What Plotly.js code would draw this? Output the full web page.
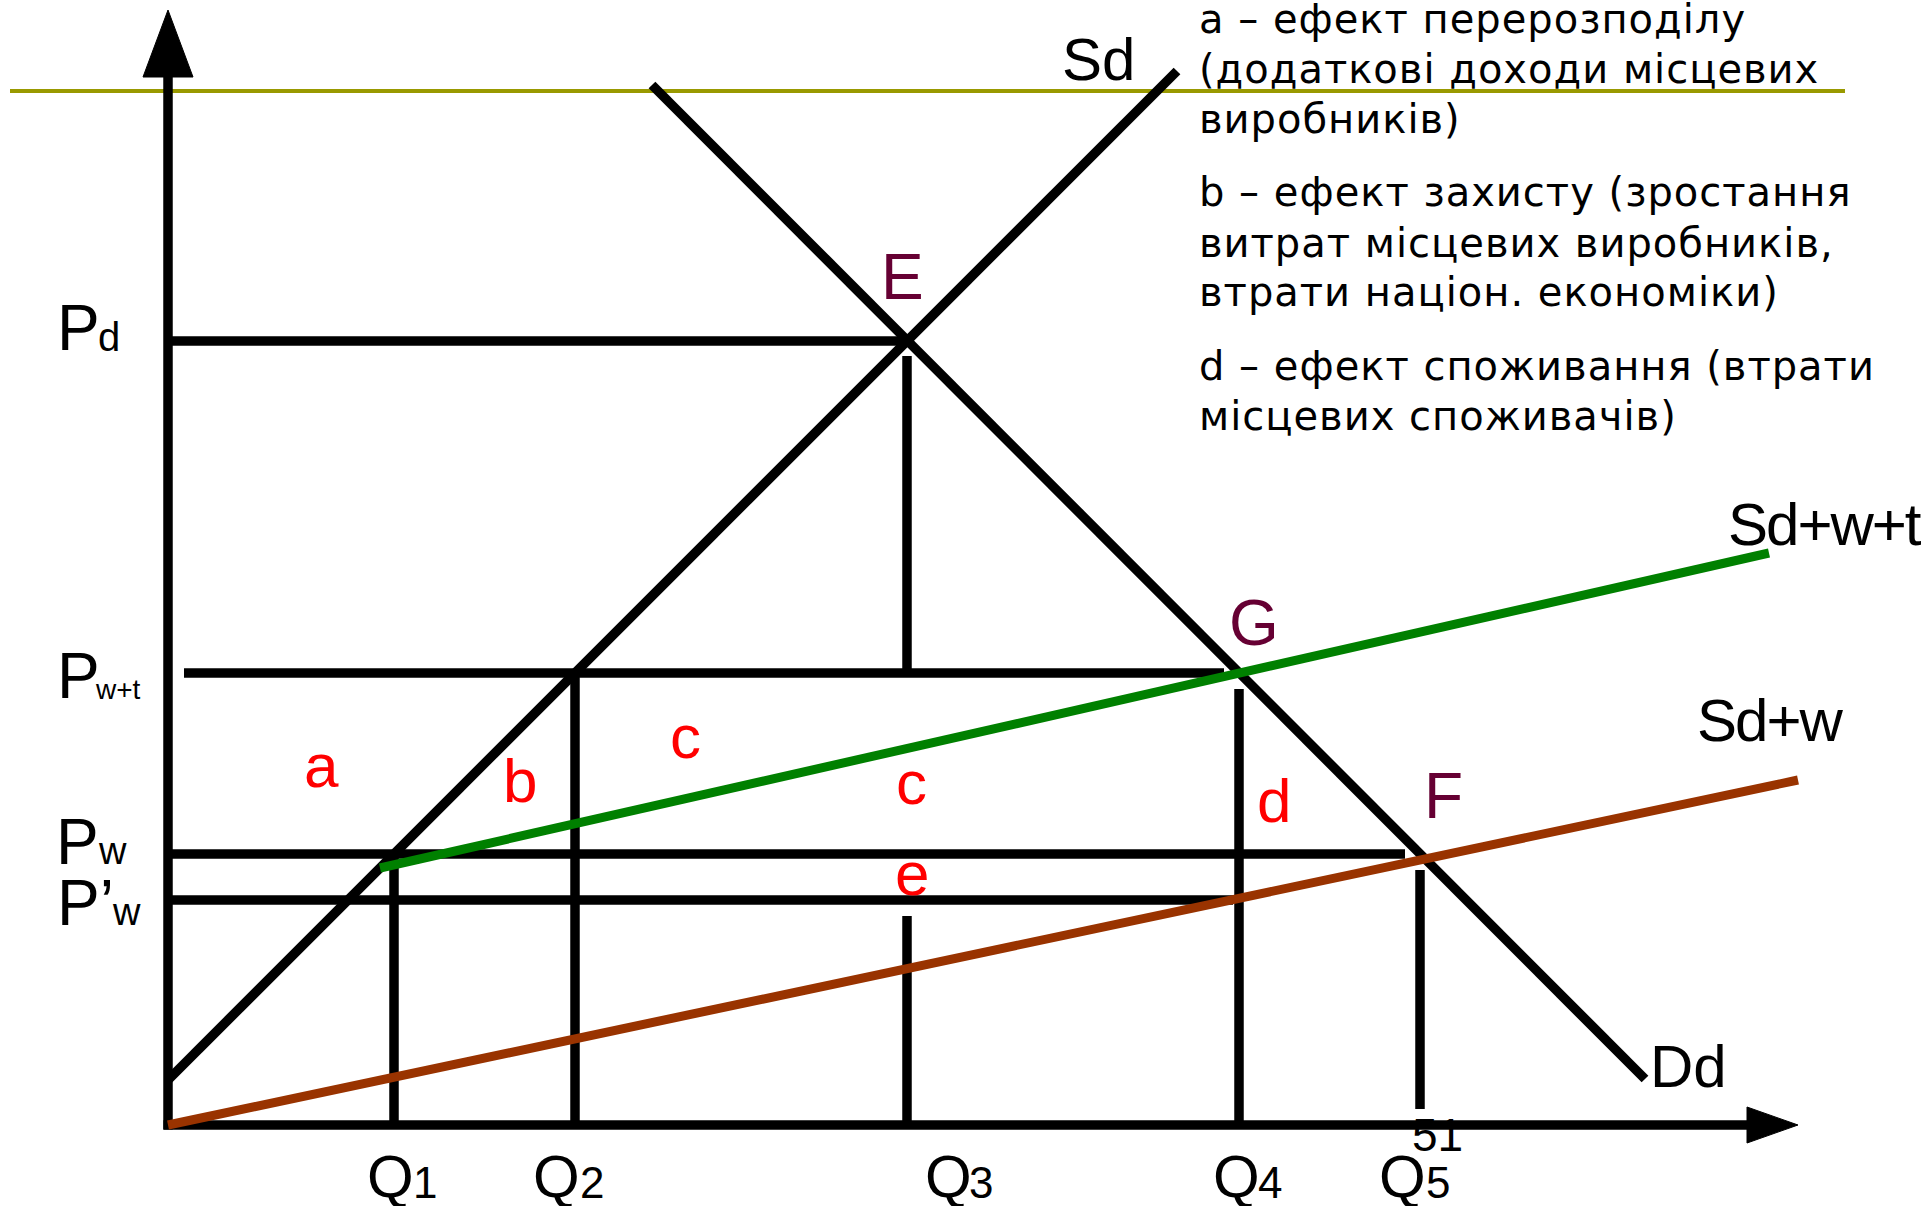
<!DOCTYPE html>
<html>
<head>
<meta charset="utf-8">
<script src="https://cdn.plot.ly/plotly-3.0.1.min.js"></script>
<style>
html, body { margin: 0; padding: 0; background: #ffffff; }
#chart { width: 1922px; height: 1206px; }
</style>
</head>
<body>
<div id="chart"></div>
<script>
// ---------- values (economic units) ----------
// price levels
var priceNames = ['Pd', 'Pw+t', 'Pw', "P'w"];
var priceLevels = [78.4, 45.2, 27.1, 22.5];
// quantity levels
var qtyNames = ['Q1', 'Q2', 'Q3', 'Q4', 'Q5'];
var qtyLevels = [22.6, 40.7, 73.9, 107.1, 125.2];

// curves (end points)
var sdQ = [0, 100.9],      sdP = [4.5, 105.4];    // domestic supply Sd
var ddQ = [48.4, 147.7],   ddP = [104.0, 4.6];    // domestic demand Dd
var sdwtQ = [21.2, 160.1], sdwtP = [25.7, 57.2];  // Sd+w+t
var sdwQ = [0, 163.0],     sdwP = [0, 34.5];      // Sd+w

// horizontal guide segments: quantity extents
var pdLineQ = [0, 73.9];
var pwtLineQ = [1.6, 105.6];
var pwLineQ = [0, 123.7];
var pwPrimeLineQ = [0, 106.5];

// vertical guide segments: price extents
var q1LineP = [0, 27.1];
var q2LineP = [0, 45.2];
var q3UpperP = [45.2, 76.9];
var q3LowerP = [0, 20.9];
var q4LineP = [0, 43.6];
var q5LineP = [1.6, 25.5];

// axes
var xAxisEnd = [157.9, 163.0];   // arrow base, arrow tip
var yAxisEnd = [104.8, 111.5];
var headerRuleP = 103.4, headerRuleQ = [-15.8, 167.7];

// legend text lines
var legendLines = [
  'a – ефект перерозподілу',
  '(додаткові доходи місцевих',
  'виробників)',
  'b – ефект захисту (зростання',
  'витрат місцевих виробників,',
  'втрати націон. економіки)',
  'd – ефект споживання (втрати',
  'місцевих споживачів)'
];
var legendP = [110.6, 105.6, 100.6, 93.3, 88.2, 83.3, 75.9, 70.9];

// area letters
var areaLetters = ['a', 'b', 'c', 'c', 'd', 'e'];
var areaQ = [15.3, 35.2, 51.7, 74.3, 110.6, 74.4];
var areaP = [36.0, 34.5, 38.9, 34.3, 32.5, 25.2];

// ---------- drawing ----------
var BLACK = '#000000', GREEN = '#008000', BROWN = '#993300',
    OLIVE = '#999900', RED = '#ff0000', MAROON = '#660033';
var LW = 9.5;
var traces = [];
function seg(x, y, color, w) {
  traces.push({x: x, y: y, mode: 'lines', type: 'scatter',
    line: {color: color, width: w}, hoverinfo: 'skip', showlegend: false});
}
function tri(x, y, color) {
  traces.push({x: x, y: y, mode: 'lines', type: 'scatter', fill: 'toself',
    fillcolor: color, line: {color: color, width: 1}, hoverinfo: 'skip', showlegend: false});
}

// header rule
seg(headerRuleQ, [headerRuleP, headerRuleP], OLIVE, 4);

// axes
seg([0, 0], [-0.45, yAxisEnd[0]], BLACK, LW);
seg([-0.45, xAxisEnd[0]], [0, 0], BLACK, LW);
tri([-2.5, 2.5, 0, -2.5], [yAxisEnd[0], yAxisEnd[0], yAxisEnd[1], yAxisEnd[0]], BLACK);
tri([xAxisEnd[0], xAxisEnd[0], xAxisEnd[1], xAxisEnd[0]], [-1.8, 1.8, 0, -1.8], BLACK);

// curves Sd, Dd
seg(sdQ, sdP, BLACK, LW);
seg(ddQ, ddP, BLACK, LW);

// horizontal guides
seg(pdLineQ, [priceLevels[0], priceLevels[0]], BLACK, LW);
seg(pwtLineQ, [priceLevels[1], priceLevels[1]], BLACK, LW);
seg(pwLineQ, [priceLevels[2], priceLevels[2]], BLACK, LW);
seg(pwPrimeLineQ, [priceLevels[3], priceLevels[3]], BLACK, LW);

// vertical guides
seg([qtyLevels[0], qtyLevels[0]], q1LineP, BLACK, LW);
seg([qtyLevels[1], qtyLevels[1]], q2LineP, BLACK, LW);
seg([qtyLevels[2], qtyLevels[2]], q3UpperP, BLACK, LW);
seg([qtyLevels[2], qtyLevels[2]], q3LowerP, BLACK, LW);
seg([qtyLevels[3], qtyLevels[3]], q4LineP, BLACK, LW);
seg([qtyLevels[4], qtyLevels[4]], q5LineP, BLACK, LW);

// world supply curves
seg(sdwtQ, sdwtP, GREEN, 9);
seg(sdwQ, sdwP, BROWN, 9);

// ---------- labels ----------
var ann = [];
var SANS = 'Liberation Sans, Arial, sans-serif';
function lab(text, x, y, size, color, xanchor) {
  ann.push({text: text, x: x, y: y, xref: 'x', yref: 'y', showarrow: false,
    xanchor: xanchor || 'center', yanchor: 'middle',
    font: {family: SANS, size: size, color: color || BLACK}});
}
// pixel -> unit helpers for label placement
function ux(px) { return (px - 168) / 10; }
function uy(py) { return (1125 - py) / 10; }

// price labels
lab('P', ux(78), uy(328), 64);
lab('d', ux(109), uy(337), 40);
lab('P', ux(78), uy(676), 64);
lab('w+t', ux(118), uy(689), 28);
lab('P', ux(77), uy(842), 64);
lab('w', ux(112), uy(851), 38);
lab('P’', ux(85), uy(903), 64);
lab('w', ux(126), uy(912), 38);

// quantity labels
var qMainX = [390, 556, 948, 1236, 1402];
var qSubX = [425, 592, 981, 1270, 1438];
for (var i = 0; i < qtyNames.length; i++) {
  lab('Q', ux(qMainX[i]), uy(1176), 60);
  lab(qtyNames[i].slice(1), ux(qSubX[i]), uy(1182), 44);
}

// curve names and points
var tight = function (t) { return '<span style="letter-spacing:-2px">' + t + '</span>'; };
lab('Sd', ux(1098), uy(59), 60);
lab(tight('Sd+w+t'), ux(1726), uy(524), 60, BLACK, 'left');
lab(tight('Sd+w'), ux(1695), uy(720), 60, BLACK, 'left');
lab('Dd', ux(1688), uy(1066), 60);
lab('E', ux(902), uy(277), 64, MAROON);
lab('G', ux(1254), uy(623), 64, MAROON);
lab('F', ux(1443), uy(796), 64, MAROON);
lab('51', ux(1437), uy(1135), 46);

// area letters
for (var j = 0; j < areaLetters.length; j++) {
  lab(areaLetters[j], areaQ[j], areaP[j], 62, RED);
}

// legend
for (var k = 0; k < legendLines.length; k++) {
  ann.push({text: '<span style="letter-spacing:1px">' + legendLines[k] + '</span>',
    x: ux(1197), y: legendP[k], xref: 'x', yref: 'y', showarrow: false,
    xanchor: 'left', yanchor: 'middle',
    font: {family: 'DejaVu Sans, sans-serif', size: 40, color: BLACK}});
}

var layout = {
  width: 1922, height: 1206, autosize: false,
  margin: {l: 0, r: 0, t: 0, b: 0, pad: 0},
  paper_bgcolor: '#ffffff', plot_bgcolor: '#ffffff',
  showlegend: false, hovermode: false,
  xaxis: {range: [-16.8, 175.4], visible: false, fixedrange: true},
  yaxis: {range: [-8.1, 112.5], visible: false, fixedrange: true},
  annotations: ann
};
Plotly.newPlot('chart', traces, layout, {staticPlot: true, displayModeBar: false});
</script>
</body>
</html>
